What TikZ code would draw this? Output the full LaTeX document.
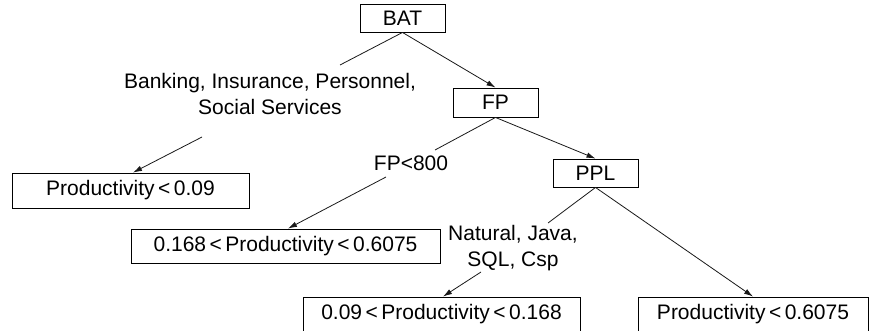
\documentclass[tikz,border=0pt]{standalone}
\usepackage{fontspec}
\setmainfont{Liberation Sans}
\usetikzlibrary{arrows.meta}
\begin{document}
\begin{tikzpicture}[x=1pt,y=-1pt,
  box/.style={draw=black,line width=0.9pt,inner sep=0pt,anchor=center},
  lbl/.style={align=center,inner sep=0pt,font=\fontsize{21}{26.5}\selectfont},
  edge/.style={line width=0.8pt,draw=black!90},
  arr/.style={edge,-{Latex[length=9pt,width=5.5pt]}},
  font=\fontsize{21}{26.5}\selectfont]
\clip (0,0) rectangle (869,330);
\fill[white] (0,0) rectangle (869,330);
% internal nodes
\node[box,minimum width=85pt,minimum height=28pt] (BAT) at (402.5,18) {BAT};
\node[box,minimum width=85pt,minimum height=29pt] (FP) at (495.5,102.5) {FP};
\node[box,minimum width=85pt,minimum height=28pt] (PPL) at (595.5,173) {PPL};
% leaves
\node[box,minimum width=237pt,minimum height=35pt] (L1) at (130.5,190.5) {Productivity\,<\,0.09};
\node[box,minimum width=309pt,minimum height=34pt] (L2) at (285.5,246) {0.168\,<\,Productivity\,<\,0.6075};
\node[box,minimum width=277pt,minimum height=34pt] (L3) at (441.5,314) {0.09\,<\,Productivity\,<\,0.168};
\node[box,minimum width=230pt,minimum height=34pt] (L4) at (753,314) {Productivity\,<\,0.6075};
% edge labels
\node[lbl] (T1) at (270,94) {Banking, Insurance, Personnel,\\Social Services};
\node[lbl] (T2) at (411,163) {FP<800};
\node[lbl] (T3) at (513,248) {Natural, Java,\\SQL, Csp};
% label connector ends
\coordinate (a1) at (340,65);
\coordinate (b1) at (202,137);
\coordinate (a2) at (435,150);
\coordinate (b2) at (386,177);
\coordinate (a3) at (548,223);
\coordinate (b3) at (481,272);
% connectors
\draw[edge] (BAT.south) -- (a1);
\draw[arr] (b1) -- ([xshift=2.5pt]L1.north);
\draw[arr] (BAT.south) -- (FP.north);
\draw[edge] (FP.south) -- (a2);
\draw[arr] (b2) -- ([xshift=2.5pt]L2.north);
\draw[arr] (FP.south) -- (PPL.north);
\draw[edge] (PPL.south) -- (a3);
\draw[arr] (b3) -- ([xshift=1.5pt]L3.north);
\draw[arr] (PPL.south) -- (L4.north);
\end{tikzpicture}
\end{document}
